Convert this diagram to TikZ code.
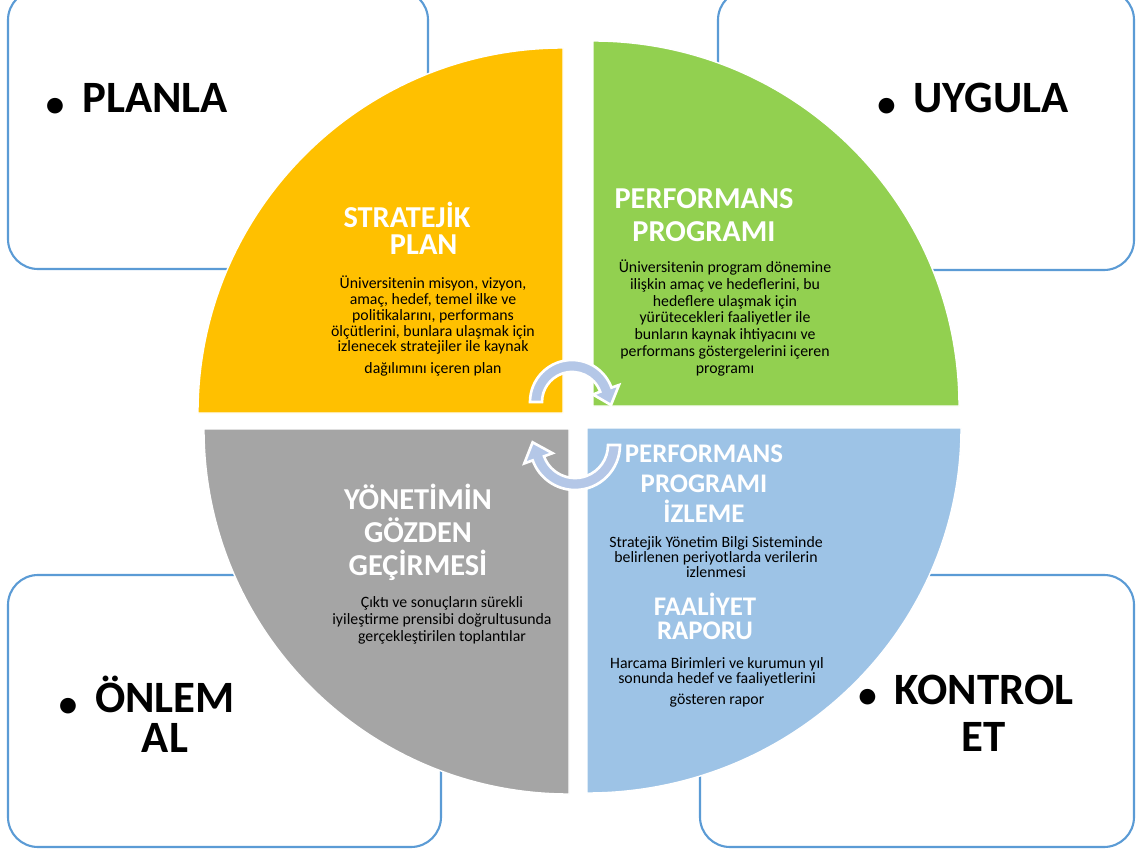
\documentclass[tikz,border=0pt]{standalone}
\usepackage{fontspec}
\setmainfont{Carlito}
\definecolor{qyellow}{HTML}{FFC000}
\definecolor{qgreen}{HTML}{92D050}
\definecolor{qblue}{HTML}{9DC3E6}
\definecolor{qgray}{HTML}{A5A5A5}
\definecolor{arrowblue}{HTML}{B4C7E7}
\definecolor{boxblue}{HTML}{5B9BD5}
\newcommand{\bul}{\llap{\raisebox{-0.08em}{\fontsize{21}{21}\selectfont\textbullet}\hspace{0.4em}}}
\begin{document}
\begin{tikzpicture}[x=0.02cm,y=-0.02cm]
	\tikzstyle{cornerbox}=[draw=boxblue,line width=1.2pt,fill=white,rounded corners=0.6cm]
	\tikzstyle{quad}=[draw=white,line width=0.8pt]
	\tikzstyle{cyc}=[fill=arrowblue,draw=white,line width=1.5pt,line join=miter]
	\tikzstyle{bigword}=[font=\fontsize{25.5}{22.5}\selectfont\bfseries,align=center,anchor=base,inner sep=0]
	\tikzstyle{qtitle}=[text=white,font=\fontsize{17.3}{18.7}\selectfont\bfseries,align=center,anchor=base,inner sep=0]
	\tikzstyle{qbody}=[font=\fontsize{9}{9.5}\selectfont,align=center,anchor=base,inner sep=0]

	\useasboundingbox (0,0) rectangle (1137,855);

	% corner boxes
	\draw[cornerbox] (8,-10) rectangle (428,269);
	\draw[cornerbox] (718,-10) rectangle (1134,270);
	\draw[cornerbox] (8,575) rectangle (441,847);
	\draw[cornerbox] (700,575) rectangle (1134,847);

	% quadrants
	\filldraw[quad,fill=qyellow] (563,413) -- (198,413) arc[start angle=180,end angle=270,radius=365] -- cycle;
	\filldraw[quad,fill=qgreen] (593,406) -- (593,41) arc[start angle=270,end angle=360,x radius=366,y radius=365] -- cycle;
	\filldraw[quad,fill=qblue] (587,428) -- (961,428) arc[start angle=0,end angle=90,x radius=374,y radius=365] -- cycle;
	\filldraw[quad,fill=qgray] (569,429) -- (569,794) arc[start angle=90,end angle=180,radius=365] -- cycle;

	% cycle arrows
	\draw[cyc] (530,402) arc[start angle=180,end angle=340,radius=42] -- (619,385) -- (611,405) -- (593,394.5) -- (600.2,391.7) arc[start angle=340,end angle=180,radius=30] -- cycle;
	\draw[cyc] (620,445) arc[start angle=0,end angle=160,radius=45] -- (524.3,463.4) -- (532.6,442.3) -- (552.5,453.2) -- (544,456.3) arc[start angle=160,end angle=0,radius=33] -- cycle;

	% node positions are last-line baselines
	\node[bigword] (planla) at (155,113) {\bul PLANLA};
	\node[bigword] (uygula) at (991,113) {\bul UYGULA};
	\node[bigword] (onlem) at (165,752) {\bul ÖNLEM\\AL};
	\node[bigword,font=\fontsize{25.5}{26.7}\selectfont\bfseries] (kontrol) at (984,751) {\bul KONTROL\\ET};

	\node[qtitle,font=\fontsize{17.3}{15.5}\selectfont\bfseries] (strateji) at (407,255) {STRATEJİK\\\hspace*{1.1em}PLAN};
	\node[qbody,font=\fontsize{9}{9}\selectfont] (stratejitxt) at (433,373) {Üniversitenin misyon, vizyon,\\amaç, hedef, temel ilke ve\\politikalarını, performans\\ölçütlerini, bunlara ulaşmak için\\izlenecek stratejiler ile kaynak\\[3pt]dağılımını içeren plan};

	\node[qtitle] (program) at (704,241) {PERFORMANS\\PROGRAMI};
	\node[qbody] (programtxt) at (725,373) {Üniversitenin program dönemine\\ilişkin amaç ve hedeflerini, bu\\hedeflere ulaşmak için\\yürütecekleri faaliyetler ile\\bunların kaynak ihtiyacını ve\\performans göstergelerini içeren\\programı};

	\node[qtitle,font=\fontsize{15.3}{17}\selectfont\bfseries] (izleme) at (704,522) {PERFORMANS\\PROGRAMI\\İZLEME};
	\node[qbody,font=\fontsize{9}{8.3}\selectfont] (izlemetxt) at (716,577) {Stratejik Yönetim Bilgi Sisteminde\\belirlenen periyotlarda verilerin\\izlenmesi};
	\node[qtitle,font=\fontsize{15.3}{13.5}\selectfont\bfseries] (rapor) at (705,639) {FAALİYET\\RAPORU};
	\node[qbody,font=\fontsize{9}{7.6}\selectfont] (raportxt) at (717,704) {Harcama Birimleri ve kurumun yıl\\sonunda hedef ve faaliyetlerini\\[4pt]gösteren rapor};

	\node[qtitle] (gozden) at (418,575) {YÖNETİMİN\\GÖZDEN\\GEÇİRMESİ};
	\node[qbody] (gozdentxt) at (442,641) {Çıktı ve sonuçların sürekli\\iyileştirme prensibi doğrultusunda\\gerçekleştirilen toplantılar};
\end{tikzpicture}
\end{document}
